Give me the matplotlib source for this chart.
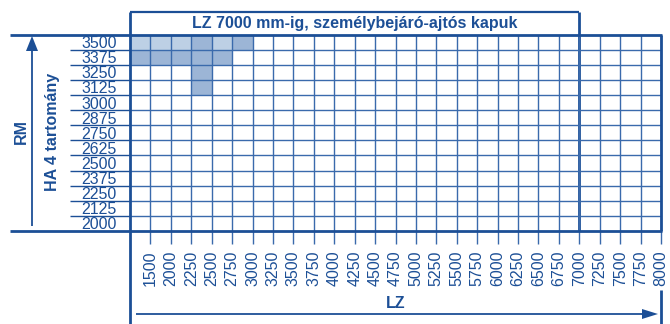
import matplotlib
matplotlib.use("Agg")
import matplotlib.pyplot as plt
import numpy as np
from matplotlib.colors import ListedColormap
from matplotlib.lines import Line2D
from matplotlib.patches import Polygon
from matplotlib.transforms import blended_transform_factory

plt.rcParams["font.family"] = ["Liberation Sans", "DejaVu Sans"]

# gate widths (LZ) and heights (RM) in mm
lz_values = [1500] + list(range(2000, 8001, 250))
rm_values = list(range(2000, 3501, 125))
lz_limit = 7000

# shaded cells: 1 = light, 2 = darker
shade_rm = [3500, 3500, 3500, 3500, 3500, 3500,
            3375, 3375, 3375, 3375, 3375,
            3250, 3125]
shade_lz = [1500, 2000, 2250, 2500, 2750, 3000,
            1500, 2000, 2250, 2500, 2750,
            2500, 2500]
shade_level = [1, 1, 1, 2, 1, 2,
               2, 2, 2, 2, 2,
               2, 2]

BLUE = "#1c4f96"
GRID = "#3a6aac"
LIGHT = "#bdd0e5"
MID = "#9cb5d6"
FS = 11.5

W, H = 670, 324
fig = plt.figure(figsize=(W / 100, H / 100), dpi=100)


def fx(x):
    return x / W


def fy(y):
    return 1 - y / H


def fline(xs, ys, lw=2.0, color=BLUE):
    fig.add_artist(Line2D([fx(x) for x in xs], [fy(y) for y in ys],
                          transform=fig.transFigure, lw=lw, color=color,
                          solid_capstyle="butt"))


def ftri(pts):
    fig.add_artist(Polygon([(fx(x), fy(y)) for x, y in pts], closed=True,
                           transform=fig.transFigure, color=BLUE, lw=0))


left, right, top, bottom = 130, 661, 34.5, 231
ax = fig.add_axes([fx(left), fy(bottom), (right - left) / W, (bottom - top) / H])

ncols, nrows = len(lz_values), len(rm_values)
grid = np.zeros((nrows, ncols))
for rm, lz, lvl in zip(shade_rm, shade_lz, shade_level):
    grid[rm_values.index(rm), lz_values.index(lz)] = lvl

cmap = ListedColormap(["white", LIGHT, MID])
ax.pcolormesh(np.arange(ncols + 1), np.arange(nrows + 1), grid,
              cmap=cmap, vmin=0, vmax=2, zorder=0)
ax.set_xlim(0, ncols)
ax.set_ylim(0, nrows)

# x labels sit on the right edge of each column
ax.set_xticks(np.arange(1, ncols + 1))
ax.set_xticklabels([str(v) for v in lz_values], rotation=90, fontsize=FS,
                   color=BLUE)
ax.tick_params(axis="x", length=9.4, width=1.0, color=GRID, pad=4.5)

# y labels centred in each row, long minor ticks act as underlines
ax.set_yticks(np.arange(nrows) + 0.5)
ax.set_yticklabels([str(v) for v in rm_values], fontsize=FS, color=BLUE)
ax.set_yticks(np.arange(1, nrows), minor=True)
ax.tick_params(axis="y", which="major", length=0, pad=9.5)
ax.tick_params(axis="y", which="minor", length=43.2, width=1.0, color=BLUE)

ax.set_axisbelow(False)
ax.grid(True, axis="x", which="major", color=GRID, lw=1.0)
ax.grid(True, axis="y", which="minor", color=GRID, lw=1.0)
for s in ax.spines.values():
    s.set_visible(False)

# LZ 7000 limit line and header box
limit_col = lz_values.index(lz_limit) + 1
bt = blended_transform_factory(ax.transData, ax.transAxes)
box_top = 1 + 22.5 / (bottom - top)
ax.plot([limit_col, limit_col], [0, box_top], transform=bt, color=BLUE,
        lw=2.0, clip_on=False, solid_capstyle="butt")
ax.plot([0, limit_col], [box_top, box_top], transform=bt, color=BLUE,
        lw=1.6, clip_on=False, solid_capstyle="butt")
ax.text(limit_col / 2, (1 + box_top) / 2, "LZ 7000 mm-ig, személybejáró-ajtós kapuk",
        transform=bt, ha="center", va="center", fontsize=FS,
        fontweight="bold", color=BLUE)

# frame
fline([10, 662], [top, top])
fline([10, 662], [bottom, bottom])
fline([left, left], [12, 324])
fline([right, right], [top, bottom])
fline([right, right], [290, 324])

# RM arrow on the left
fline([32, 32], [226, 50], lw=1.3)
ftri([(26, 51), (38, 51), (32, 36)])
fig.text(fx(21), fy(132), "RM", rotation=90, ha="center", va="center",
         fontsize=FS, fontweight="bold", color=BLUE)
fig.text(fx(52), fy(132), "HA 4 tartomány", rotation=90, ha="center",
         va="center", fontsize=FS, fontweight="bold", color=BLUE)

# LZ arrow at the bottom
fline([136, 643], [314, 314], lw=1.3)
ftri([(642, 309), (642, 319), (658, 314)])
fig.text(fx(396), fy(303.5), "LZ", ha="center", va="center",
         fontsize=FS, fontweight="bold", color=BLUE)

fig.savefig("out.png", dpi=100)
